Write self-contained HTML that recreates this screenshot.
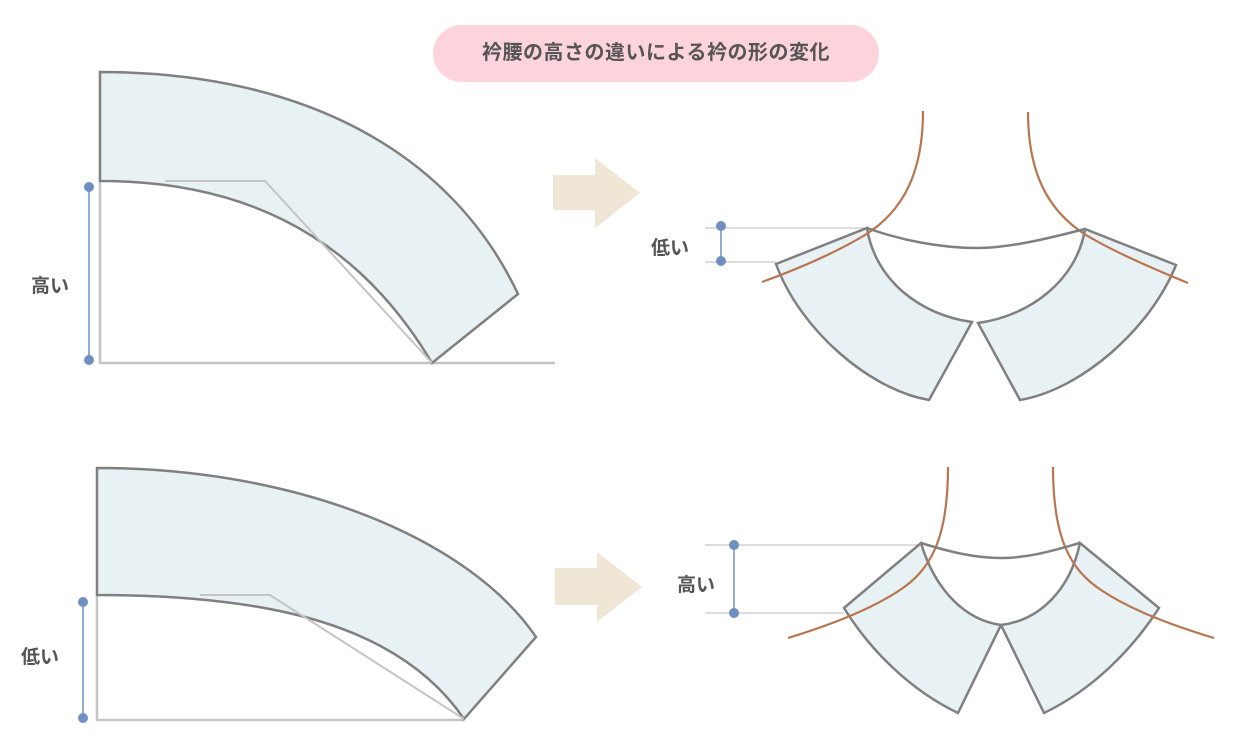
<!DOCTYPE html>
<html><head><meta charset="utf-8"><style>
html,body{margin:0;padding:0;background:#fff;}
body{width:1245px;height:756px;overflow:hidden;position:relative;font-family:"Liberation Sans","Noto Sans CJK JP",sans-serif;}
.pill{position:absolute;left:433px;top:25px;width:446px;height:57px;border-radius:29px;background:#fed4dc;color:#555;font-weight:bold;font-size:20px;line-height:57px;text-align:center;letter-spacing:0.5px;}
</style></head><body>
<div class="pill">衿腰の高さの違いによる衿の形の変化</div>
<svg width="1245" height="756" style="position:absolute;left:0;top:0" xmlns="http://www.w3.org/2000/svg">
<g font-family="Liberation Sans, Noto Sans CJK JP, sans-serif" font-size="19" font-weight="bold" fill="#555">
<text x="31" y="292">高い</text>
<text x="21" y="663">低い</text>
<text x="651" y="254">低い</text>
<text x="677" y="591">高い</text>
</g>
<!-- top left -->
<path d="M100,181 L100,363 L555,363" fill="none" stroke="#c4c4c4" stroke-width="2.5"/>
<path d="M100,72 C300,72 450,150 518,294 L432,363 C350,225 230,181 100,181 Z" fill="#e8f1f4" stroke="#808080" stroke-width="2.5"/>
<path d="M165,181 L265,181 L432,363" fill="none" stroke="#c4c4c4" stroke-width="2"/>
<line x1="89" y1="187" x2="89" y2="360" stroke="#6e8fbf" stroke-width="1.5"/>
<circle cx="89" cy="187" r="5" fill="#6e8fbf"/><circle cx="89" cy="360" r="5" fill="#6e8fbf"/>
<!-- bottom left -->
<path d="M97,595 L97,720 L464,720" fill="none" stroke="#c4c4c4" stroke-width="2.5"/>
<path d="M97,468 C300,468 470,540 536,637 L464,719 C400,625 270,595 97,595 Z" fill="#e8f1f4" stroke="#808080" stroke-width="2.5"/>
<path d="M200,595 L270,595 L464,719" fill="none" stroke="#c4c4c4" stroke-width="2"/>
<line x1="83" y1="602" x2="83" y2="718" stroke="#6e8fbf" stroke-width="1.5"/>
<circle cx="83" cy="602" r="5" fill="#6e8fbf"/><circle cx="83" cy="718" r="5" fill="#6e8fbf"/>
<!-- arrows -->
<path d="M553,175 L595,175 L595,158 L640,193 L595,228 L595,210 L553,210 Z" fill="#efe6d6"/>
<path d="M555,568 L597,568 L597,552 L642,587 L597,622 L597,605 L555,605 Z" fill="#efe6d6"/>
<!-- top right collar -->
<line x1="705" y1="228" x2="867" y2="228" stroke="#bbb" stroke-width="1"/>
<line x1="705" y1="262" x2="776" y2="262" stroke="#bbb" stroke-width="1"/>
<line x1="721" y1="226" x2="721" y2="261" stroke="#6e8fbf" stroke-width="1.5"/>
<circle cx="721" cy="226" r="5" fill="#6e8fbf"/><circle cx="721" cy="261" r="5" fill="#6e8fbf"/>
<path d="M776,264 L867,228 C875,280 920,315 972,322 L929,400 C870,390 800,330 776,264 Z" fill="#e8f1f4" stroke="#808080" stroke-width="2.5"/>
<path d="M1176,265 L1085,229 C1077,280 1030,316 978,323 L1020,400 C1080,390 1150,330 1176,265 Z" fill="#e8f1f4" stroke="#808080" stroke-width="2.5"/>
<path d="M923,111 C923,170 905,210 865,235 C835,253 795,270 762,282" fill="none" stroke="#b87550" stroke-width="2.2"/>
<path d="M1028,112 C1028,170 1046,210 1086,235 C1116,253 1156,270 1188,283" fill="none" stroke="#b87550" stroke-width="2.2"/>
<path d="M867,228 C900,240 940,248 977,248 C1010,248 1050,238 1085,229" fill="none" stroke="#808080" stroke-width="2.5"/>
<!-- bottom right collar -->
<line x1="705" y1="545" x2="921" y2="545" stroke="#bbb" stroke-width="1"/>
<line x1="705" y1="613" x2="844" y2="613" stroke="#bbb" stroke-width="1"/>
<line x1="734" y1="545" x2="734" y2="613" stroke="#6e8fbf" stroke-width="1.5"/>
<circle cx="734" cy="545" r="5" fill="#6e8fbf"/><circle cx="734" cy="613" r="5" fill="#6e8fbf"/>
<path d="M844,608 L921,543 C935,590 965,620 1001,625 L958,713 C910,690 870,650 844,608 Z" fill="#e8f1f4" stroke="#808080" stroke-width="2.5"/>
<path d="M1159,608 L1080,543 C1070,590 1040,620 1001,625 L1044,713 C1092,690 1132,650 1159,608 Z" fill="#e8f1f4" stroke="#808080" stroke-width="2.5"/>
<path d="M948,467 C948,540 930,570 900,590 C870,610 830,625 788,638" fill="none" stroke="#b87550" stroke-width="2.2"/>
<path d="M1053,467 C1053,540 1071,570 1101,590 C1131,610 1171,625 1214,638" fill="none" stroke="#b87550" stroke-width="2.2"/>
<path d="M921,543 C950,552 975,558 1001,558 C1030,558 1055,550 1080,543" fill="none" stroke="#808080" stroke-width="2.5"/>
</svg>
</body></html>
